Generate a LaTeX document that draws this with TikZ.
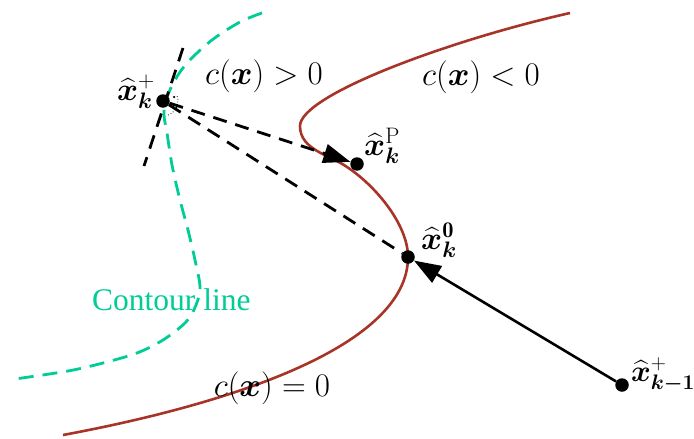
\RequirePackage{fix-cm}
\documentclass[tikz,border=0pt]{standalone}
\usepackage{amsmath,bm}
\usepackage{fontspec}
\newfontfamily\timesf{Liberation Serif}
\usetikzlibrary{arrows.meta}
\definecolor{conred}{RGB}{168,52,40}
\definecolor{congreen}{RGB}{0,204,150}
\tikzset{
  dotc/.style={circle,fill=black,inner sep=0pt,minimum size=13.5pt},
  lbl/.style={inner sep=0pt,font=\fontsize{32}{38}\selectfont},
  rel/.style={inner sep=0pt,font=\fontsize{33}{40}\selectfont},
  blkdash/.style={black,line width=2.8pt,dash pattern=on 14pt off 9pt},
  grndash/.style={congreen,line width=2.8pt,dash pattern=on 15pt off 9pt},
  redcurve/.style={conred,line width=2.6pt},
  bigtip/.style={-{Triangle[length=27pt,width=19pt]}}
}
\begin{document}
\begin{tikzpicture}[x=1pt,y=-1pt]
\useasboundingbox (0,0) rectangle (694,439);
% red constraint curve
\coordinate (r0) at (63,435);
\coordinate (r1) at (408,257);
\coordinate (r1b) at (347,167);
\coordinate (r2) at (300,126);
\coordinate (r3) at (570,13);
\draw[redcurve] (r0) .. controls (235,403) and (408,345) .. (r1)
  .. controls (408,225) and (376,186) .. (r1b)
  .. controls (330,155) and (300,150) .. (r2)
  .. controls (300,95) and (450,40) .. (r3);
% green contour line
\draw[grndash] plot[smooth,tension=0.55] coordinates {
 (262,13) (240,22) (212,40) (188,62) (175,80) (166,100) (164,115) (167,133)
 (172,165) (180,200) (188,230) (195,260) (200,287) (196,305) (186,322)
 (163,340) (137,353) (103,363) (68,371) (15,379)};
% points
\node[dotc] (kp) at (163,101) {};
\node[dotc] (kP) at (357,164) {};
\node[dotc] (k0) at (408,257) {};
\node[dotc] (km) at (622,385) {};
% tangent line
\coordinate (t1) at (183,48);
\coordinate (t2) at (144,166);
\draw[blkdash] (t1) -- (t2);
% right-angle mark
\draw[black,line width=0.8pt,dotted] ([shift={(70:15)}]kp.center) arc[start angle=70,end angle=-22,radius=15];
\node[circle,fill=black,inner sep=0pt,minimum size=2.5pt] (ra) at (174,97) {};
% connectors
\draw[blkdash,bigtip] (kp) -- (kP);
\draw[blkdash] (kp) -- (k0);
\draw[black,line width=2.6pt,bigtip] (km) -- (k0);
% labels
\node[lbl] (lkp) at (136,92) {$\widehat{\boldsymbol{x}}_{\boldsymbol{k}}^{+}$};
\node[lbl] (lkP) at (382,146) {$\widehat{\boldsymbol{x}}_{\boldsymbol{k}}^{\mathrm{P}}$};
\node[lbl] (lk0) at (439,240) {$\widehat{\boldsymbol{x}}_{\boldsymbol{k}}^{\mathbf{0}}$};
\node[lbl,font=\fontsize{30}{36}\selectfont] (lkm) at (663,375) {$\widehat{\boldsymbol{x}}_{\boldsymbol{k-1}}^{+}$};
\node[rel] (cpos) at (264,76) {$c(\boldsymbol{x})>0$};
\node[rel] (cneg) at (481,77) {$c(\boldsymbol{x})<0$};
\node[rel] (czero) at (272,388) {$c(\boldsymbol{x})=0$};
\node[inner sep=0pt,anchor=base west,text=congreen,font=\timesf\fontsize{31.5}{36}\selectfont] (cont) at (92,310) {Contour line};
\end{tikzpicture}
\end{document}
